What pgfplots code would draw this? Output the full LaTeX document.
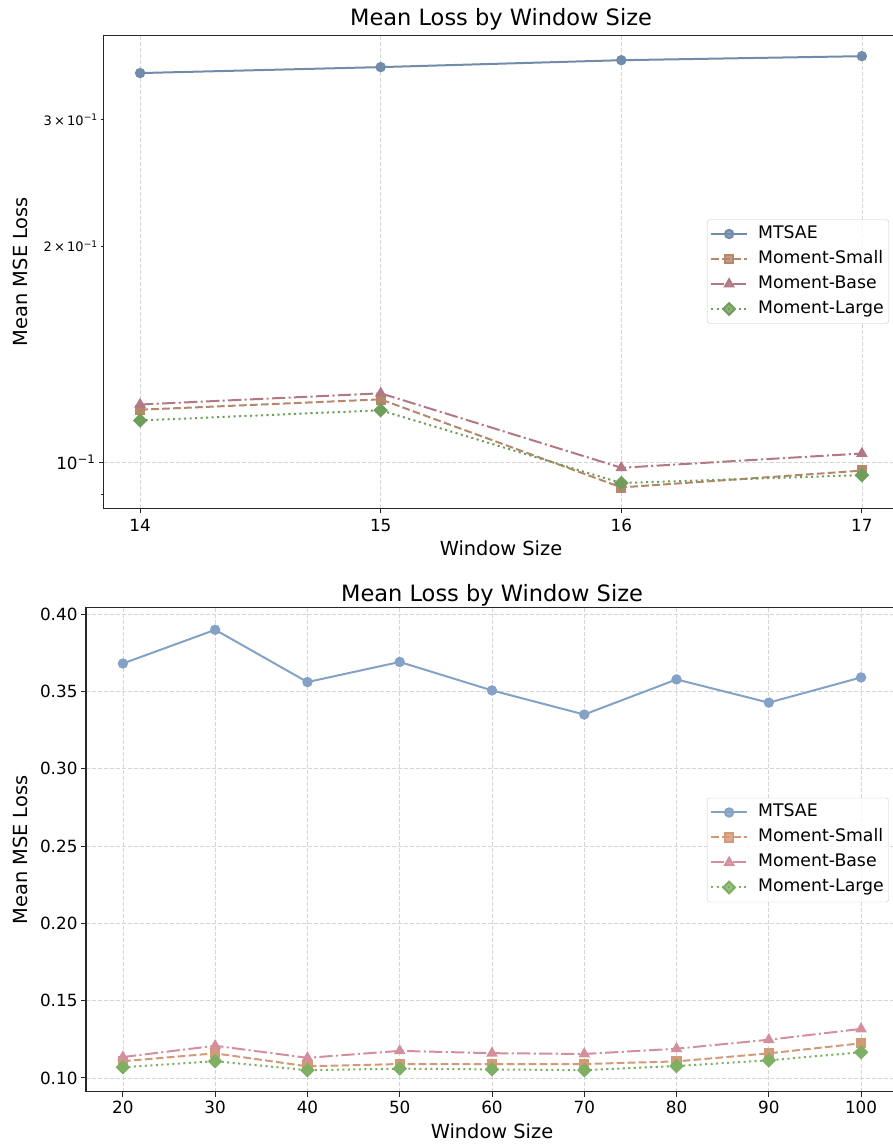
\documentclass[border=0pt]{standalone}
\usepackage{fontspec}
\setmainfont{DejaVu Sans}
\usepackage{pgfplots}
\pgfplotsset{compat=1.18}

\definecolor{tA}{HTML}{718BAA}
\definecolor{tB}{HTML}{B5876B}
\definecolor{tC}{HTML}{B27883}
\definecolor{tD}{HTML}{6E9E5A}
\definecolor{bA}{HTML}{84A1C6}
\definecolor{bB}{HTML}{D29A77}
\definecolor{bC}{HTML}{D48F9E}
\definecolor{bD}{HTML}{7EAF62}

\pgfplotsset{
  mystyle/.style={
    scale only axis,
    axis line style={black!85, line width=1pt},
    tick style={black!85, line width=0.9pt},
    tick align=outside,
    major tick length=5pt,
    minor tick length=2.8pt,
    xtick pos=left, ytick pos=left,
    grid style={dash pattern=on 4pt off 2pt, line width=0.8pt, black!17},
    tick label style={font=\fontsize{16.8}{20}\selectfont},
    /pgf/number format/assume math mode=true,
    label style={font=\fontsize{19.4}{23}\selectfont},
    title style={font=\fontsize{22.5}{27}\selectfont},
    legend cell align=left,
    legend style={font=\fontsize{17.3}{20}\selectfont, draw=black!20, rounded corners=3pt,
      fill=white, fill opacity=0.8, text opacity=1,
      at={(axis description cs:1,0.5)}, anchor=east, xshift=-9pt,
      inner xsep=3pt, inner ysep=2pt,
      nodes={text height=13pt, text depth=4pt, inner xsep=2pt, inner ysep=4pt},
      /tikz/every odd column/.style={column sep=8pt}},
    legend image code/.code={
      \draw[mark repeat=2,mark phase=2,##1] plot coordinates {(0pt,0pt) (18pt,0pt) (36pt,0pt)};
    },
  },
  sA/.style={line width=2pt, mark=*, mark size=4.15pt, mark options={solid}},
  sB/.style={line width=2pt, dash pattern=on 7.7pt off 3.3pt, mark=square*, mark size=4.15pt, mark options={solid}},
  sC/.style={line width=2pt, dash pattern=on 13.3pt off 3.3pt on 2.1pt off 3.3pt, mark=triangle*, mark size=4.7pt, mark options={solid}},
  sD/.style={line width=2pt, dash pattern=on 2.1pt off 3.4pt, mark=square*, mark size=4.15pt, mark options={solid, rotate=45}},
}

\begin{document}
\begin{tikzpicture}
\begin{axis}[mystyle,
  at={(104pt,636pt)}, anchor=south west, width=794pt, height=473pt,
  xmin=13.85, xmax=17.15, ymode=log, ymin=0.0863, ymax=0.3939,
  xtick={14,15,16,17}, xmajorgrids,
  xticklabel style={yshift=-3pt},
  ytick={0.1}, yticklabels={10\textsuperscript{−1}}, ymajorgrids,
  minor ytick={0.09}, yminorgrids=false,
  extra y ticks={0.2,0.3},
  extra y tick labels={2\,×\,10\textsuperscript{−1},3\,×\,10\textsuperscript{−1}},
  extra y tick style={major tick length=2.8pt, grid=none, yticklabel style={font=\fontsize{13}{15}\selectfont}},
  title={Mean Loss by Window Size},
  title style={at={(axis description cs:0.5,1.021)}, anchor=center},
  xlabel={Window Size},
  xlabel style={at={(axis description cs:0.5,-0.0846)}, anchor=center},
  ylabel={Mean MSE Loss},
  ylabel style={at={(axis description cs:-0.1058,0.5)}, anchor=center},
]
\addplot[sA, color=tA] coordinates {(14,0.3486) (15,0.3553) (16,0.3633) (17,0.368)};
\addlegendentry{MTSAE}
\addplot[sB, color=tB] coordinates {(14,0.1183) (15,0.1223) (16,0.0922) (17,0.0973)};
\addlegendentry{Moment-Small}
\addplot[sC, color=tC] coordinates {(14,0.1203) (15,0.1247) (16,0.0982) (17,0.1028)};
\addlegendentry{Moment-Base}
\addplot[sD, color=tD] coordinates {(14,0.1143) (15,0.1181) (16,0.0935) (17,0.0959)};
\addlegendentry{Moment-Large}
\end{axis}

\begin{axis}[mystyle,
  at={(86pt,52pt)}, anchor=south west, width=812pt, height=484pt,
  xmin=16, xmax=104, ymin=0.0909, ymax=0.4039,
  xtick={20,30,40,50,60,70,80,90,100},
  ytick={0.10,0.15,0.20,0.25,0.30,0.35,0.40},
  yticklabel style={/pgf/number format/.cd, fixed, fixed zerofill, precision=2},
  grid=major,
  title={Mean Loss by Window Size},
  title style={at={(axis description cs:0.5,1.0145)}, anchor=center},
  xlabel={Window Size},
  xlabel style={at={(axis description cs:0.5,-0.0806)}, anchor=center},
  ylabel={Mean MSE Loss},
  ylabel style={at={(axis description cs:-0.0813,0.5)}, anchor=center},
]
\addplot[sA, color=bA] coordinates {(20,0.368) (30,0.3898) (40,0.356) (50,0.369) (60,0.3506) (70,0.335) (80,0.3577) (90,0.3427) (100,0.359)};
\addlegendentry{MTSAE}
\addplot[sB, color=bB] coordinates {(20,0.1108) (30,0.1159) (40,0.1075) (50,0.109) (60,0.109) (70,0.109) (80,0.1107) (90,0.1159) (100,0.1224)};
\addlegendentry{Moment-Small}
\addplot[sC, color=bC] coordinates {(20,0.1135) (30,0.1208) (40,0.113) (50,0.1175) (60,0.116) (70,0.1155) (80,0.1189) (90,0.1247) (100,0.1317)};
\addlegendentry{Moment-Base}
\addplot[sD, color=bD] coordinates {(20,0.1069) (30,0.1108) (40,0.105) (50,0.106) (60,0.1055) (70,0.105) (80,0.1077) (90,0.1114) (100,0.1166)};
\addlegendentry{Moment-Large}
\end{axis}
\pgfresetboundingbox
\useasboundingbox (0,0) rectangle (893pt,1144pt);
\end{tikzpicture}
\end{document}
